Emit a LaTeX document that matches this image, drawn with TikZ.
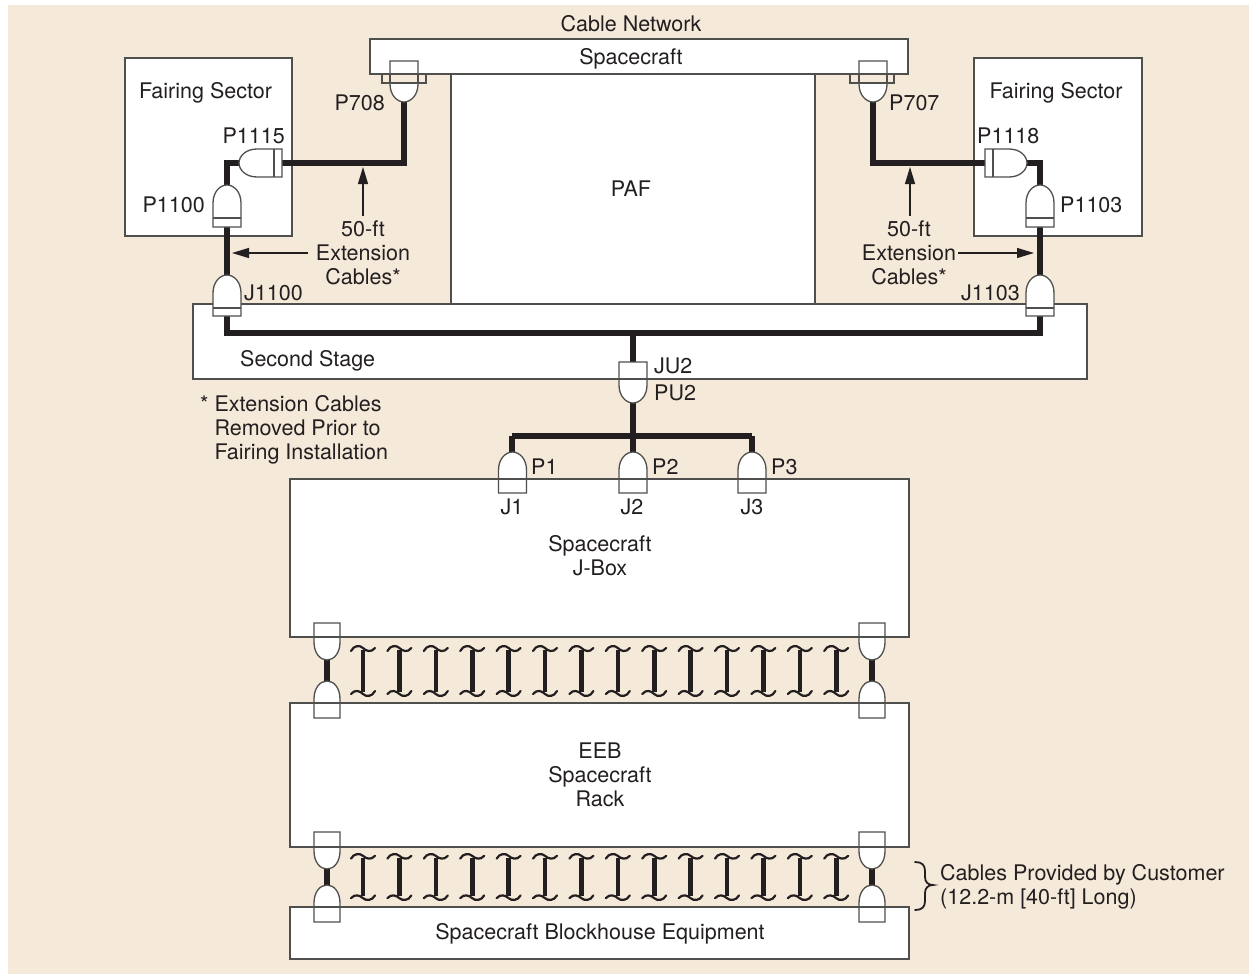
\documentclass[tikz,border=0pt]{standalone}
\usepackage{fontspec}
\setmainfont{TeX Gyre Heros}
\usetikzlibrary{fit,arrows.meta}
\definecolor{bgc}{HTML}{F5E9D9}
\definecolor{ink}{HTML}{231F20}
\definecolor{edge}{HTML}{4F4F4D}
\tikzset{
  box/.style={draw=edge,line width=1.3pt,fill=white,inner sep=0pt},
  outline/.style={draw=edge,line width=1.3pt},
  cable/.style={draw=ink,line width=5.5pt,line join=miter},
  lbl/.style={text=ink,font=\fontsize{21.5}{24}\selectfont,inner sep=0pt,align=center},
  conshape/.style={draw=edge,line width=1.3pt,fill=white},
  pointer/.style={draw=ink,line width=1.2pt,-{Triangle[length=17pt,width=10pt]}},
  squigthin/.style={draw=ink,line width=2.2pt,line cap=round},
  squigthick/.style={draw=ink,line width=4.6pt}
}
% connector: #2 name, #3 tip position, #4 rotation, #5 length, #6 band distance from tip (0 = none)
\newcommand\conn[6][14]{%
  \begin{scope}[shift={(#3)},rotate=#4]
    \draw[conshape] (-#1,#5) -- (-#1,18) .. controls (-#1,7) and (-7,0) .. (0,0)
      .. controls (7,0) and (#1,7) .. (#1,18) -- (#1,#5) -- cycle;
    \ifnum#6>0 \draw[conshape] (-#1,#6) -- (#1,#6);\fi
    \coordinate (#2-tip) at (0,0);
    \coordinate (#2-tail) at (0,#5);
  \end{scope}}
% multi-strand symbol
\newcommand\squig[3]{%
  \begin{scope}[shift={(#1,#2)},yscale=#3]
    \draw[squigthin] (-12,-20) .. controls (-9,-26) and (-3,-26) .. (0,-23)
      .. controls (3,-20) and (8,-18) .. (12,-23);
    \draw[squigthin] (12,20) .. controls (9,26) and (3,26) .. (0,23)
      .. controls (-3,20) and (-8,18) .. (-12,23);
    \draw[squigthick] (0,-21) -- (0,21);
  \end{scope}}
\begin{document}
\begin{tikzpicture}[x=1pt,y=-1pt]
\useasboundingbox (0,0) rectangle (1249,974);
\fill[bgc] (8,5) rectangle (1249,974);
% boxes
\node[box,fit={(125,58)(292,236)}] (fairL) {};
\node[box,fit={(974,58)(1142,236)}] (fairR) {};
\node[box,fit={(370,39)(908,74)}] (sc) {};
\node[box,fit={(451,74)(815,304)}] (paf) {};
\node[box,fit={(193,304)(1087,379)}] (stage) {};
\node[box,fit={(290,479)(909,637)}] (jbox) {};
\node[box,fit={(290,703)(909,847)}] (eeb) {};
\node[box,fit={(290,907)(909,959)}] (block) {};
% junction coordinates
\coordinate (bendL) at (404,163);
\coordinate (bendR) at (873,163);
\coordinate (bendLi) at (227,163);
\coordinate (bendRi) at (1040,163);
\coordinate (busL) at (227,333);
\coordinate (busR) at (1040,333);
\coordinate (busM) at (633,333);
\coordinate (splitM) at (633,436);
\coordinate (splitL) at (512,436);
\coordinate (splitR) at (752,436);
% cables first, connectors on top
\draw[cable] (404,102) -- (bendL) -- (282,163);
\draw[cable] (873,102) -- (bendR) -- (985,163);
\draw[cable] (239,163) -- (bendLi) -- (227,185);
\draw[cable] (1027,163) -- (bendRi) -- (1040,185);
\draw[cable] (227,227) -- (227,275);
\draw[cable] (1040,227) -- (1040,275);
\draw[cable] (227,316) -- (busL) -- (busR) -- (1040,316);
\draw[cable] (busM) -- (633,362);
\draw[cable] (633,403) -- (splitM);
\draw[cable] (splitL) -- (splitR);
\draw[cable] (splitL) -- (512,452);
\draw[cable] (splitM) -- (633,452);
\draw[cable] (splitR) -- (752,452);
\draw[cable] (327,660) -- (327,681);
\draw[cable] (872,660) -- (872,681);
\draw[cable] (327,869) -- (327,885);
\draw[cable] (872,869) -- (872,885);
% connectors
\conn{pA}{404,102}{180}{41}{0}
\conn{pB}{873,102}{180}{41}{0}
\conn{pC}{239,163}{90}{43}{35}
\conn{pD}{1027,163}{-90}{42}{34}
\conn{pE}{227,185}{0}{42}{33}
\conn{pF}{1040,185}{0}{42}{33}
\conn{pG}{227,275}{0}{41}{33}
\conn{pH}{1040,275}{0}{41}{33}
\conn{pU}{633,403}{180}{41}{0}
\conn{pP}{512.5,452}{0}{41}{0}
\conn{pQ}{633,452}{0}{41}{0}
\conn{pR}{752,452}{0}{41}{0}
\conn[13]{sA}{327,660}{180}{37}{0}
\conn[13]{sB}{872,660}{180}{37}{0}
\conn[13]{sC}{327,681}{0}{37}{0}
\conn[13]{sD}{872,681}{0}{37}{0}
\conn[13]{sE}{327,869}{180}{37}{0}
\conn[13]{sF}{872,869}{180}{37}{0}
\conn[13]{sG}{327,885}{0}{37}{0}
\conn[13]{sH}{872,885}{0}{37}{0}
% flanges and edges that show through the connectors
\draw[outline,fill=bgc] (382,74) rectangle (426,83);
\draw[outline,fill=bgc] (850,74) rectangle (894,83);
\draw[outline] (390,74) -- (390,83) (418,74) -- (418,83);
\draw[outline] (859,74) -- (859,83) (887,74) -- (887,83);
\draw[outline] (370,74) -- (908,74);
\draw[outline] (193,379) -- (1087,379);
\draw[outline] (290,479) -- (909,479);
\draw[outline] (290,637) -- (909,637);
\draw[outline] (290,703) -- (909,703);
\draw[outline] (290,847) -- (909,847);
\draw[outline] (290,907) -- (909,907);
% strands
\foreach \i in {0,...,13}{
  \squig{363+36.4*\i}{671}{1}
  \squig{363+36.4*\i}{877}{0.92}
}
% pointers
\coordinate (upLt) at (363,216); \coordinate (upLh) at (363,167);
\coordinate (upRt) at (910,216); \coordinate (upRh) at (910,167);
\coordinate (sdLt) at (308,253); \coordinate (sdLh) at (232,253);
\coordinate (sdRt) at (958,253); \coordinate (sdRh) at (1034,253);
\draw[pointer] (upLt) -- (upLh);
\draw[pointer] (upRt) -- (upRh);
\draw[pointer] (sdLt) -- (sdLh);
\draw[pointer] (sdRt) -- (sdRh);
% brace
\coordinate (brT) at (915,862); \coordinate (brB) at (915,910); \coordinate (brM) at (933,885);
\draw[draw=ink,line width=1.8pt,line cap=round]
  (brT) .. controls (922,862) and (925,865) .. (925,871) -- (925,877)
  .. controls (925,882) and (928,885) .. (brM)
  .. controls (928,885) and (925,888) .. (925,893) -- (925,901)
  .. controls (925,907) and (922,910) .. (brB);
% labels
\node[lbl] (t1) at (631,24) {Cable Network};
\node[lbl] (t2) at (631,59) {Spacecraft};
\node[lbl] (t3) at (631,189) {PAF};
\node[lbl] (t4) at (205.5,93) {Fairing Sector};
\node[lbl] (t5) at (1056,93) {Fairing Sector};
\node[lbl,anchor=east] (t6) at (385,103) {P708};
\node[lbl,anchor=west] (t7) at (889,103) {P707};
\node[lbl,anchor=east] (t8) at (285,136) {P1115};
\node[lbl,anchor=west] (t9) at (977,136) {P1118};
\node[lbl,anchor=east] (t10) at (205,205) {P1100};
\node[lbl,anchor=west] (t11) at (1060,205) {P1103};
\node[lbl,anchor=west] (t12) at (244,293) {J1100};
\node[lbl,anchor=east] (t13) at (1020,293) {J1103};
\node[lbl] (t14) at (363,253) {50-ft\\[0pt]Extension\\[0pt]Cables*};
\node[lbl] (t15) at (909,253) {50-ft\\[0pt]Extension\\[0pt]Cables*};
\node[lbl,anchor=west] (t16) at (240,361) {Second Stage};
\node[lbl,anchor=west] (t17) at (654,366) {JU2};
\node[lbl,anchor=west] (t18) at (654,393) {PU2};
\node[lbl,anchor=north west,align=left] (t19) at (200,395) {* Extension Cables\\[0pt]\phantom{* }Removed Prior to\\[0pt]\phantom{* }Fairing Installation};
\node[lbl,anchor=west] (t20) at (531,467) {P1};
\node[lbl,anchor=west] (t21) at (652,467) {P2};
\node[lbl,anchor=west] (t22) at (771,467) {P3};
\node[lbl] (t23) at (512,507) {J1};
\node[lbl] (t24) at (632,507) {J2};
\node[lbl] (t25) at (752,507) {J3};
\node[lbl] (t26) at (600,556) {Spacecraft\\[0pt]J-Box};
\node[lbl] (t27) at (600,775) {EEB\\[0pt]Spacecraft\\[0pt]Rack};
\node[lbl] (t28) at (600,934) {Spacecraft Blockhouse Equipment};
\node[lbl,anchor=west,align=left] (t29) at (940,887) {Cables Provided by Customer\\[0pt](12.2-m [40-ft] Long)};
\end{tikzpicture}
\end{document}
